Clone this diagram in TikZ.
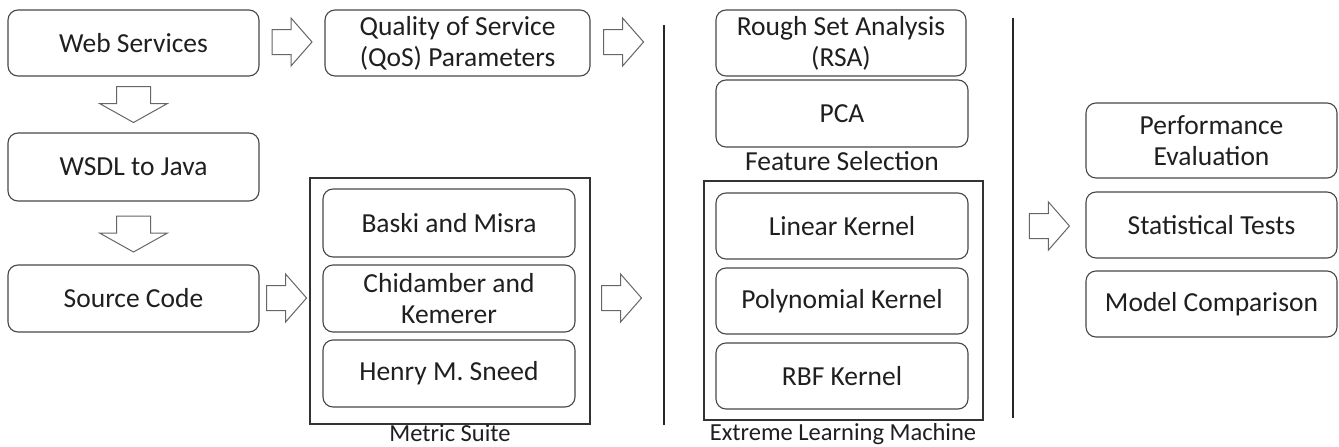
\documentclass[tikz,border=0pt]{standalone}
\usepackage{fontspec}
\setmainfont{Carlito}
\usetikzlibrary{calc}
\tikzset{
  box/.style={draw=black!72, line width=1.1pt, rounded corners=10pt, align=center,
    text=black!88, font=\fontsize{27.5}{31}\selectfont, minimum width=251pt,
    minimum height=66pt, inner sep=0pt},
  frame/.style={draw=black!80, line width=1.1pt},
  caption/.style={text=black!88, font=\fontsize{24.5}{29}\selectfont, inner sep=0pt, anchor=base},
  divider/.style={draw=black!85, line width=1.3pt},
  blockarr/.style={draw=black!60, line width=1pt, fill=white, line join=miter},
  rarrow/.pic={\path[blockarr] (-20,-12.5) -- (-1,-12.5) -- (-1,-24) -- (20,0)
      -- (-1,24) -- (-1,12.5) -- (-20,12.5) -- cycle;},
  darrow/.pic={\path[blockarr] (-17,-18) -- (17,-18) -- (17,-1) -- (34,-1)
      -- (0,18) -- (-34,-1) -- (-17,-1) -- cycle;}
}
\begin{document}
\begin{tikzpicture}[x=1pt,y=-1pt]
\useasboundingbox (0,0) rectangle (1339,447);

% input column
\node[box] (ws)   at (133.5,43)    {Web Services};
\node[box, minimum height=68pt] (wsdl) at (133.5,167) {WSDL to Java};
\node[box, minimum height=67pt] (src)  at (133.5,298.5) {Source Code};
\node[box, minimum width=265pt] (qos) at (457.5,43) {Quality of Service\\(QoS) Parameters};

% metric suite group
\node[box, minimum width=252pt, minimum height=68pt] (baski) at (449,223) {Baski and Misra};
\node[box, minimum width=252pt, minimum height=67pt] (chid)  at (449,298.5) {Chidamber and\\Kemerer};
\node[box, minimum width=252pt, minimum height=67pt] (henry) at (449,373.5) {Henry M. Sneed};
\draw[frame] (310,178) rectangle (590,424);
\node[caption] (ms) at (450,441) {Metric Suite};

% separators
\coordinate (s1t) at (664,25);
\coordinate (s1b) at (664,425);
\coordinate (s2t) at (1013,18);
\coordinate (s2b) at (1013,418);
\draw[divider] (s1t) -- (s1b);
\draw[divider] (s2t) -- (s2b);

% feature selection
\node[box, minimum width=250pt] (rsa) at (841,43) {Rough Set Analysis\\(RSA)};
\node[box, minimum width=252pt, minimum height=67pt] (pca) at (842,113.5) {PCA};
\node[caption, font=\fontsize{27.5}{31}\selectfont] (fs) at (842,170) {Feature Selection};

% extreme learning machine group
\node[box, minimum width=252pt] (lin)  at (842,226) {Linear Kernel};
\node[box, minimum width=252pt] (poly) at (842,301) {Polynomial Kernel};
\node[box, minimum width=252pt] (rbf)  at (842,376) {RBF Kernel};
\draw[frame] (704,181) rectangle (983,420);
\node[caption] (elm) at (843,440) {Extreme Learning Machine};

% evaluation column
\node[box, minimum height=75pt] (perf)  at (1211.5,140.5) {Performance\\Evaluation};
\node[box] (stat)  at (1211.5,225) {Statistical Tests};
\node[box] (model) at (1211.5,304) {Model Comparison};

% block arrows between stages
\pic at ($(ws.east)!0.5!(qos.west)+(0,-1)$) {rarrow};
\pic at ($(qos.east)+(33,-1)$) {rarrow};
\pic at ($(ws.south)!0.5!(wsdl.north)$) {darrow};
\pic at ($(wsdl.south)!0.5!(src.north)+(0,1)$) {darrow};
\pic at ($(src.east)+(27,-0.5)$) {rarrow};
\pic at ($(chid.east)+(46,-0.5)$) {rarrow};
\pic at ($(stat.west)+(-36,1)$) {rarrow};
\end{tikzpicture}
\end{document}
